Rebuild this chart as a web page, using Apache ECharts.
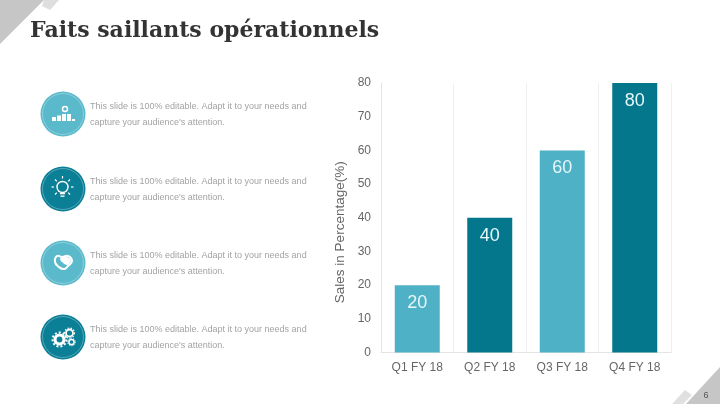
<!DOCTYPE html>
<html><head><meta charset="utf-8">
<script src="https://cdn.jsdelivr.net/npm/echarts@6/dist/echarts.min.js"></script>
<style>html,body{margin:0;padding:0;background:#fff}#c{width:720px;height:404px}</style>
</head><body><div id="c"></div>
<script>
const titleText = "Faits saillants opérationnels";
const categories = ["Q1 FY 18","Q2 FY 18","Q3 FY 18","Q4 FY 18"];
const values = [20,40,60,80];
const barColors = ["#4fb1c5","#04778c","#4fb1c5","#04778c"];
const yAxisName = "Sales in Percentage(%)";
const bodyLines = ["This slide is 100% editable. Adapt it to your needs and","capture your audience's attention."];
const rowCenters = [114,189,263,337];
const rowColors = ["#5ab9cb","#0b7f96","#5ab9cb","#0b7f96"];
const pageNumber = "6";

const g = [];
const W = '#ffffff';
const rect=(x,y,w,h,f)=>g.push({type:'rect',z:5,shape:{x,y,width:w,height:h},style:{fill:f||W}});
const ring=(cx,cy,r,lw,dash)=>g.push({type:'circle',z:5,shape:{cx,cy,r},style:{fill:'none',stroke:W,lineWidth:lw,lineDash:dash||null}});
const seg=(x1,y1,x2,y2,lw)=>g.push({type:'line',z:5,shape:{x1,y1,x2,y2},style:{stroke:W,lineWidth:lw||1.2}});

g.push({type:'polygon',shape:{points:[[0,0],[44,0],[0,44]]},style:{fill:'#c6c6c6'}});
g.push({type:'polygon',shape:{points:[[44,0],[59,0],[50,10],[42,6]]},style:{fill:'#dedede'}});
g.push({type:'polygon',shape:{points:[[720,367],[720,404],[686,404]]},style:{fill:'#c6c6c6'}});
g.push({type:'polygon',shape:{points:[[685,390],[692,395],[683,404],[672,404]]},style:{fill:'#e0e0e0'}});
g.push({type:'text',style:{text:titleText,x:30,y:31,verticalAlign:'middle',font:'bold 22px "DejaVu Serif"',fill:'#333333'}});
g.push({type:'text',z:5,style:{text:pageNumber,x:706,y:396,align:'center',verticalAlign:'middle',font:'9px "Liberation Sans"',fill:'#555'}});
rowCenters.forEach((cy,i)=>{
  g.push({type:'circle',shape:{cx:63,cy,r:22.5},style:{fill:rowColors[i]}});
  g.push({type:'circle',shape:{cx:63,cy,r:20.5},style:{fill:'none',stroke:'rgba(255,255,255,.3)',lineWidth:1}});
  g.push({type:'text',style:{text:bodyLines[0],x:90,y:cy-7.5,verticalAlign:'middle',font:'9px "Liberation Sans"',fill:'#a3a3a3'}});
  g.push({type:'text',style:{text:bodyLines[1],x:90,y:cy+8.5,verticalAlign:'middle',font:'9px "Liberation Sans"',fill:'#a3a3a3'}});
});
// icon 1: stacked blocks
rect(52,117,4,4); rect(57,115.5,4,5.5); rect(62,114,4,7); rect(67,114,4,7); rect(72,119,3,2);
ring(65,109,2.5,1.5);
// icon 2: light bulb
ring(62.5,187,5.5,1.4);
rect(60,193,5,1.3); rect(60.5,195.5,4,1.3);
seg(62.5,176,62.5,178.5); seg(55,179.5,56.8,181.3); seg(70,179.5,68.2,181.3);
seg(51.5,187,54,187); seg(71,187,73.5,187); seg(55,194.5,56.8,192.7); seg(70,194.5,68.2,192.7);
// icon 3: heart / hands
g.push({type:'polygon',z:5,shape:{points:[[57,256],[55,262],[59,267],[64,269],[68,266],[72,261],[68,256],[62,257]],smooth:0.5},style:{fill:'none',stroke:W,lineWidth:2}});
g.push({type:'polygon',z:5,shape:{points:[[60,259],[66,257],[71,260],[67,265]],smooth:0.4},style:{fill:W}});
// icon 4: gears
ring(59.5,339.5,4.5,3.2); ring(59.5,339.5,7,2,[2,2]);
ring(69.5,333,3.5,1.8); ring(69.5,333,5,1.2,[1.5,1.5]);
ring(71.5,342,2.6,1.5); ring(71.5,342,3.8,1,[1.2,1.2]);

const chart = echarts.init(document.getElementById('c'),null,{renderer:'canvas'});
chart.setOption({
  animation:false,
  backgroundColor:'#fff',
  graphic:g,
  grid:{left:381,top:83,width:290,height:269.5,containLabel:false},
  xAxis:{type:'category',data:categories,
    axisLine:{lineStyle:{color:'#e4e4e4'}},axisTick:{show:false},
    splitLine:{show:true,lineStyle:{color:'#efefef'}},
    axisLabel:{color:'#666',fontFamily:'Liberation Sans',fontSize:12,margin:9}},
  yAxis:{type:'value',min:0,max:80,interval:10,
    name:yAxisName,nameLocation:'middle',nameGap:34,
    nameTextStyle:{color:'#666',fontFamily:'Liberation Sans',fontSize:13.5,padding:[0,29,0,0]},
    axisLine:{show:true,lineStyle:{color:'#e4e4e4'}},axisTick:{show:false},splitLine:{show:false},
    axisLabel:{color:'#666',fontFamily:'Liberation Sans',fontSize:12,margin:10}},
  series:[{type:'bar',barWidth:45,
    data:values.map((v,i)=>({value:v,itemStyle:{color:barColors[i]}})),
    label:{show:true,position:'insideTop',distance:9,color:'#e6f7fa',fontFamily:'Liberation Sans',fontSize:18}}]
});
</script></body></html>
